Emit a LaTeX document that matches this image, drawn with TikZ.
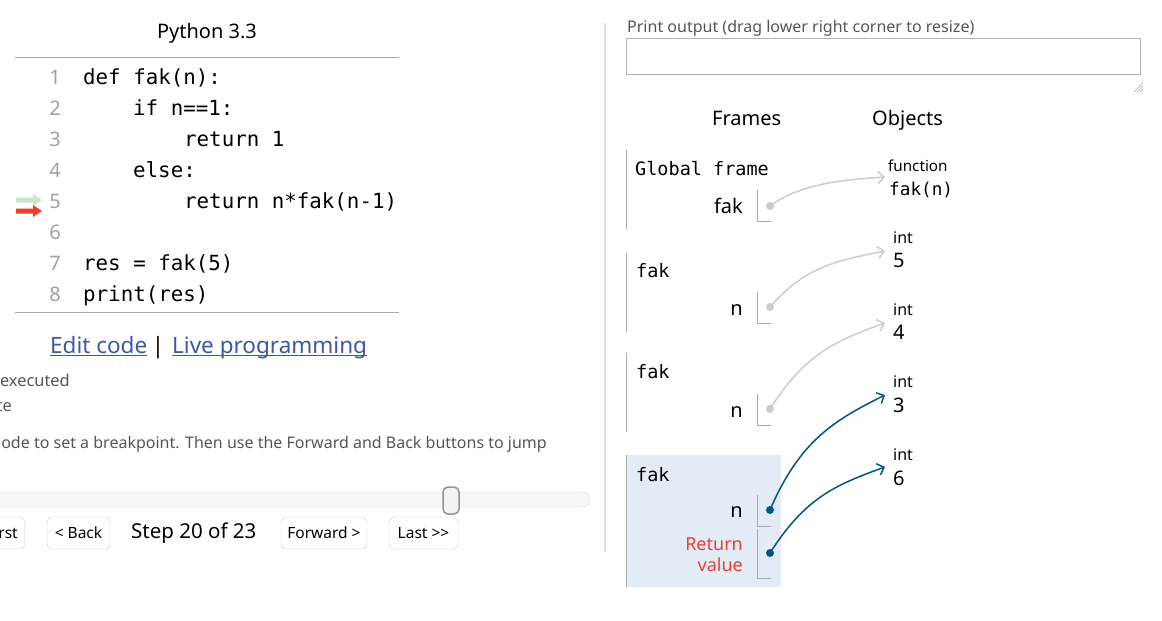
\documentclass[tikz,border=0pt]{standalone}
\usepackage{fontspec}
\setmainfont{Noto Sans}
\setsansfont{Noto Sans}
\setmonofont{DejaVu Sans Mono}
\usetikzlibrary{arrows.meta}

\definecolor{linkblue}{RGB}{61,88,168}
\definecolor{txtgray}{RGB}{85,85,85}
\definecolor{numgray}{RGB}{160,160,160}
\definecolor{rulegray}{RGB}{170,170,170}
\definecolor{ptrgray}{RGB}{204,204,204}
\definecolor{ptrblue}{RGB}{0,85,131}
\definecolor{framebg}{RGB}{226,235,246}
\definecolor{retred}{RGB}{233,63,52}
\definecolor{prevgreen}{RGB}{201,230,202}

\newcommand{\fsz}[1]{\fontsize{#1}{#1}\selectfont}

\tikzset{
  ui/.style={font=\sffamily\fsz{#1}, inner sep=0pt},
  code/.style={font=\ttfamily\fsz{#1}, inner sep=0pt},
  knopf/.style={draw=gray!40, fill=white, rounded corners=5pt, font=\sffamily\fsz{15.5},
    minimum height=32pt, inner sep=0pt, text height=11pt, text depth=1pt},
  punkt/.style={circle, fill=#1, inner sep=0pt, minimum size=8pt},
  zeiger/.style={draw=#1, line width=1.5pt, -{Straight Barb[length=6pt,width=12pt]}},
  cella/.style={draw=rulegray, line width=0.8pt}
}

\begin{document}
\begin{tikzpicture}[x=1pt,y=-1pt]
	\useasboundingbox (0,0) rectangle (1162,621);
	% intestazione e codice
	\node[ui=20, anchor=base] (titolo) at (207,38) {Python 3.3};
	\draw[rulegray] (15,57) -- (399,57);
	\draw[rulegray] (15,312) -- (399,312);
	\node[ui=20, numgray, anchor=base] (n1) at (55,84) {1};
	\node[ui=20, numgray, anchor=base] (n2) at (55,115) {2};
	\node[ui=20, numgray, anchor=base] (n3) at (55,146) {3};
	\node[ui=20, numgray, anchor=base] (n4) at (55,177) {4};
	\node[ui=20, numgray, anchor=base] (n5) at (55,208) {5};
	\node[ui=20, numgray, anchor=base] (n6) at (55,239) {6};
	\node[ui=20, numgray, anchor=base] (n7) at (55,270) {7};
	\node[ui=20, numgray, anchor=base] (n8) at (55,301) {8};
	\node[code=20.8, anchor=base west] (c1) at (83,84) {def fak(n):};
	\node[code=20.8, anchor=base west] (c2) at (133,115) {if n==1:};
	\node[code=20.8, anchor=base west] (c3) at (184,146) {return 1};
	\node[code=20.8, anchor=base west] (c4) at (133,177) {else:};
	\node[code=20.8, anchor=base west] (c5) at (184,208) {return n*fak(n-1)};
	\node[code=20.8, anchor=base west] (c7) at (83,270) {res = fak(5)};
	\node[code=20.8, anchor=base west] (c8) at (83,301) {print(res)};
	% frecce della riga corrente
	\fill[prevgreen] (16,197.5) -- (33,197.5) -- (33,194) -- (42,200) -- (33,206) -- (33,202.5) -- (16,202.5) -- cycle;
	\fill[retred] (16,208.5) -- (33,208.5) -- (33,205) -- (42,211) -- (33,217) -- (33,213.5) -- (16,213.5) -- cycle;
	% link e istruzioni
	\node[ui=22.5, linkblue, anchor=base west] (edit) at (50,353) {Edit code};
	\node[ui=22.5, anchor=base] (sep) at (158,353) {|};
	\node[ui=22.5, linkblue, anchor=base west] (live) at (172,353) {Live programming};
	\draw[linkblue, line width=1.2pt] ([yshift=-2.5pt]edit.base west) -- ([yshift=-2.5pt]edit.base east);
	\draw[linkblue, line width=1.2pt] ([yshift=-2.5pt]live.base west) -- ([yshift=-2.5pt]live.base east);
	\node[ui=16.4, txtgray, anchor=base east] (riga1) at (70,386) {executed};
	\node[ui=16.4, txtgray, anchor=base east] (riga2) at (12,411) {te};
	\node[ui=16, txtgray, anchor=base east] (riga3) at (547,448) {ode to set a breakpoint. Then use the Forward and Back buttons to jump};
	% cursore
	\draw[draw=gray!25, fill=gray!7, rounded corners=7pt] (-10,492) rectangle (590,507);
	\draw[draw=gray!85, fill=gray!10, line width=1.5pt, rounded corners=5pt] (443,487) rectangle (459,514);
	% pulsanti
	\node[knopf, anchor=east, text width=38pt, inner xsep=7pt, align=right] (erst) at (25,533) {rst};
	\node[knopf, minimum width=63pt] (back) at (78.5,533) {< Back};
	\node[ui=20.5, anchor=base west] (passo) at (131,538) {Step 20 of 23};
	\node[knopf, minimum width=86pt] (avanti) at (324,533) {Forward >};
	\node[knopf, minimum width=69pt] (ultimo) at (423.5,533) {Last >{}>};
	% divisore
	\draw[gray!25, line width=2pt] (605,23) -- (605,552);
	% output
	\node[ui=16, txtgray, anchor=base west] (stampa) at (627,32) {Print output (drag lower right corner to resize)};
	\draw[gray!60] (626,38) rectangle (1140,74);
	\draw[gray!70] (1134,92) -- (1143,83);
	\draw[gray!70] (1137,92) -- (1143,86);
	\draw[gray!70] (1140,92) -- (1143,89);
	\node[ui=20, anchor=base west] (frames) at (712,125) {Frames};
	\node[ui=20, anchor=base west] (objects) at (872,125) {Objects};
	% frame globale
	\draw[cella] (626,150) -- (626,229);
	\node[code=18.5, anchor=base west] (glob) at (635,175) {Global frame};
	\node[ui=20, anchor=base east] (vfak) at (743,213) {fak};
	\draw[cella] (757,190) -- (757,221) -- (771,221);
	\node[punkt=ptrgray] (pfak) at (770,206) {};
	\node[ui=15.2, anchor=base west] (ofun) at (888,171) {function};
	\node[code=17.7, anchor=base west] (ofak) at (889,195) {fak(n)};
	\coordinate (tfak) at (885,177);
	\draw[zeiger=ptrgray] (pfak.center) .. controls +(30,-22) and +(-45,3) .. (tfak);
	% fak(5)
	\draw[cella] (626,253) -- (626,332);
	\node[code=18.5, anchor=base west] (f1) at (636,277) {fak};
	\node[ui=20, anchor=base east] (v1) at (743,315) {n};
	\draw[cella] (757,292) -- (757,323) -- (771,323);
	\node[punkt=ptrgray] (p1) at (770,307) {};
	\node[ui=16, anchor=base west] (i5) at (893,243) {int};
	\node[ui=20, anchor=base west] (o5) at (893,267) {5};
	\coordinate (t5) at (885,251);
	\draw[zeiger=ptrgray] (p1.center) .. controls +(35,-40) and +(-50,10) .. (t5);
	% fak(4)
	\draw[cella] (626,353) -- (626,432);
	\node[code=18.5, anchor=base west] (f2) at (636,378) {fak};
	\node[ui=20, anchor=base east] (v2) at (743,417) {n};
	\draw[cella] (757,394) -- (757,425) -- (771,425);
	\node[punkt=ptrgray] (p2) at (770,409) {};
	\node[ui=16, anchor=base west] (i4) at (893,315) {int};
	\node[ui=20, anchor=base west] (o4) at (893,339) {4};
	\coordinate (t4) at (885,323);
	\draw[zeiger=ptrgray] (p2.center) .. controls +(35,-55) and +(-50,18) .. (t4);
	% fak(3), frame attivo
	\fill[framebg] (626,455) rectangle (781,587);
	\draw[cella] (626,455) -- (626,587);
	\node[code=18.5, anchor=base west] (f3) at (636,481) {fak};
	\node[ui=20, anchor=base east] (v3) at (743,517) {n};
	\draw[cella] (757,495) -- (757,526) -- (771,526);
	\node[punkt=ptrblue] (p3) at (770,510) {};
	\node[ui=18, retred, anchor=base east] (ret1) at (743,550) {Return};
	\node[ui=18, retred, anchor=base east] (ret2) at (743,571) {value};
	\draw[cella] (757,529) -- (757,578) -- (771,578);
	\node[punkt=ptrblue] (pret) at (770,553) {};
	\node[ui=16, anchor=base west] (i3) at (893,387) {int};
	\node[ui=20, anchor=base west] (o3) at (893,412) {3};
	\node[ui=16, anchor=base west] (i6) at (893,460) {int};
	\node[ui=20, anchor=base west] (o6) at (893,485) {6};
	\coordinate (t3) at (885,395);
	\coordinate (t6) at (885,467);
	\draw[zeiger=ptrblue] (p3.center) .. controls +(30,-70) and +(-50,25) .. (t3);
	\draw[zeiger=ptrblue] (pret.center) .. controls +(35,-55) and +(-50,18) .. (t6);
\end{tikzpicture}
\end{document}
